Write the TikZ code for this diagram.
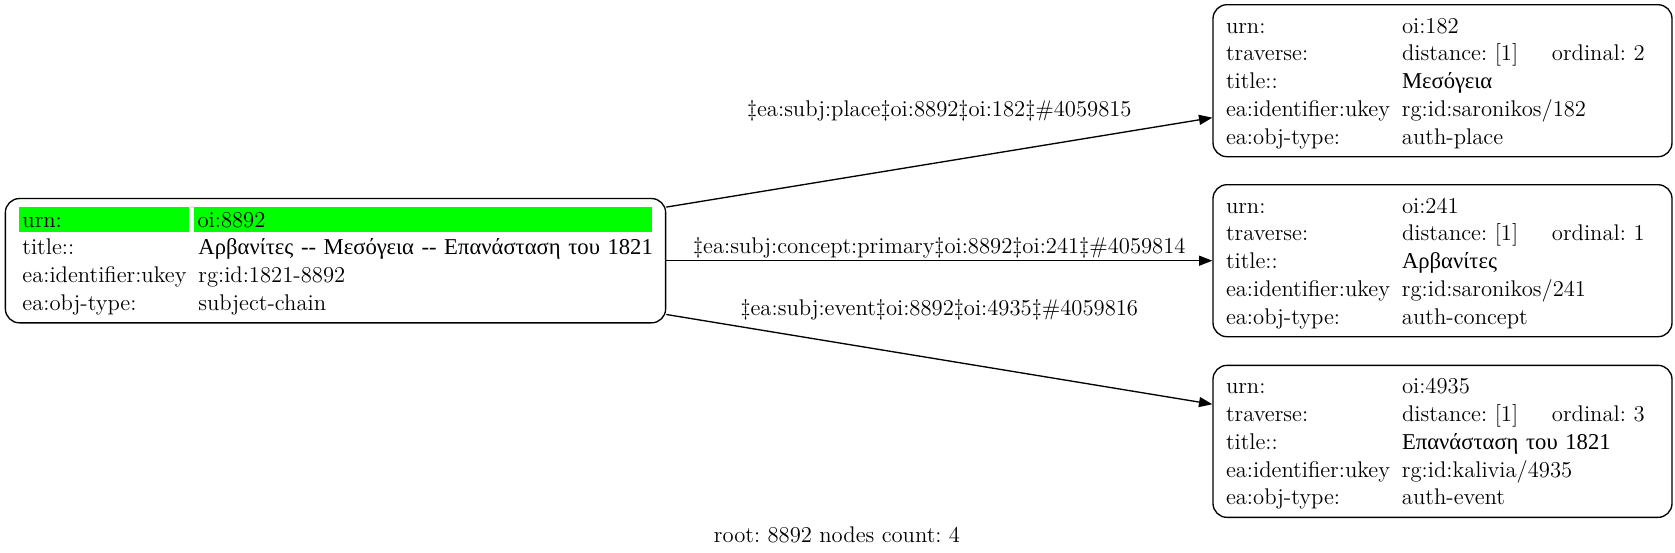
\documentclass[tikz,border=0pt]{standalone}
\usepackage{fontspec}
\usepackage{xcolor}
\usepackage{tikz}
\usetikzlibrary{arrows.meta, positioning}

\setmainfont{lmroman12-regular}[Extension=.otf]
\newfontfamily\greekfont{Liberation Serif}
\definecolor{hl}{RGB}{0,255,0}
\frenchspacing

% one row of a record: key, value (and an optional third cell)
\newcommand{\gr}[1]{{\greekfont #1}}
\newcommand{\rowstrut}{\rule[-4.4pt]{0pt}{20.8pt}}
\newcommand{\kv}[2]{\makebox[134.4pt][l]{\hspace{2.4pt}#1}\mbox{#2}\rowstrut}
\newcommand{\kvo}[3]{\makebox[134.4pt][l]{\hspace{2.4pt}#1}\makebox[112.5pt][l]{#2}\mbox{#3}\rowstrut}
\newcommand{\hlcell}[2]{\colorbox{hl}{\makebox[#1][l]{\rule[-3.9pt]{0pt}{19.3pt}\hspace{2.4pt}#2}}}
\newcommand{\hlkv}[2]{{\fboxsep=0pt\hlcell{127.35pt}{#1}\hspace{4pt}\hlcell{343pt}{#2}}\rowstrut}

\begin{document}
\begin{tikzpicture}[
    x=0.75pt, y=-0.75pt,
    record/.style={draw, line width=1pt, rounded corners=10.5pt, align=left, inner ysep=5pt, font=\fontsize{17}{20.8}\selectfont},
    rootrec/.style={record, inner xsep=10.4pt, text width=474.4pt},
    leafrec/.style={record, inner xsep=7.35pt, text width=329.55pt},
    edge/.style={-{Triangle[length=10pt, width=7.5pt]}, line width=1pt},
    elabel/.style={font=\fontsize{17}{20.8}\selectfont, inner sep=0pt}
]
\useasboundingbox (0,0) rectangle (1675,553);

% Root record
\node[rootrec] (n8892) at (335.5,260.7) {%
    \hlkv{urn:}{oi:8892}\\
    \kv{title::}{\gr{Αρβανίτες {-}{-} Μεσόγεια {-}{-} Επανάσταση του 1821}}\\
    \kv{ea:identifier:ukey}{rg:id:1821-8892}\\
    \kv{ea:obj-type:}{subject-chain}};

% Linked records
\node[leafrec] (n241) at (1442.5,260.7) {%
    \kv{urn:}{oi:241}\\
    \kvo{traverse:}{distance: [1]}{ordinal: 1}\\
    \kv{title::}{\gr{Αρβανίτες}}\\
    \kv{ea:identifier:ukey}{rg:id:saronikos/241}\\
    \kv{ea:obj-type:}{auth-concept}};
\node[leafrec, above=20pt of n241] (n182) {%
    \kv{urn:}{oi:182}\\
    \kvo{traverse:}{distance: [1]}{ordinal: 2}\\
    \kv{title::}{\gr{Μεσόγεια}}\\
    \kv{ea:identifier:ukey}{rg:id:saronikos/182}\\
    \kv{ea:obj-type:}{auth-place}};
\node[leafrec, below=20.5pt of n241] (n4935) {%
    \kv{urn:}{oi:4935}\\
    \kvo{traverse:}{distance: [1]}{ordinal: 3}\\
    \kv{title::}{\gr{Επανάσταση του 1821}}\\
    \kv{ea:identifier:ukey}{rg:id:kalivia/4935}\\
    \kv{ea:obj-type:}{auth-event}};

% Edges
\draw[edge] (n8892) -- node[elabel, pos=0.5, yshift=38.7pt] {‡ea:subj:place‡oi:8892‡oi:182‡\#4059815} (n182);
\draw[edge] (n8892) -- node[elabel, pos=0.5, yshift=9.5pt] {‡ea:subj:concept:primary‡oi:8892‡oi:241‡\#4059814} (n241);
\draw[edge] (n8892) -- node[elabel, pos=0.5, yshift=37.5pt] {‡ea:subj:event‡oi:8892‡oi:4935‡\#4059816} (n4935);

% Caption
\node[elabel] (caption) at (837,535) {root: 8892 nodes count: 4};

\end{tikzpicture}
\end{document}
